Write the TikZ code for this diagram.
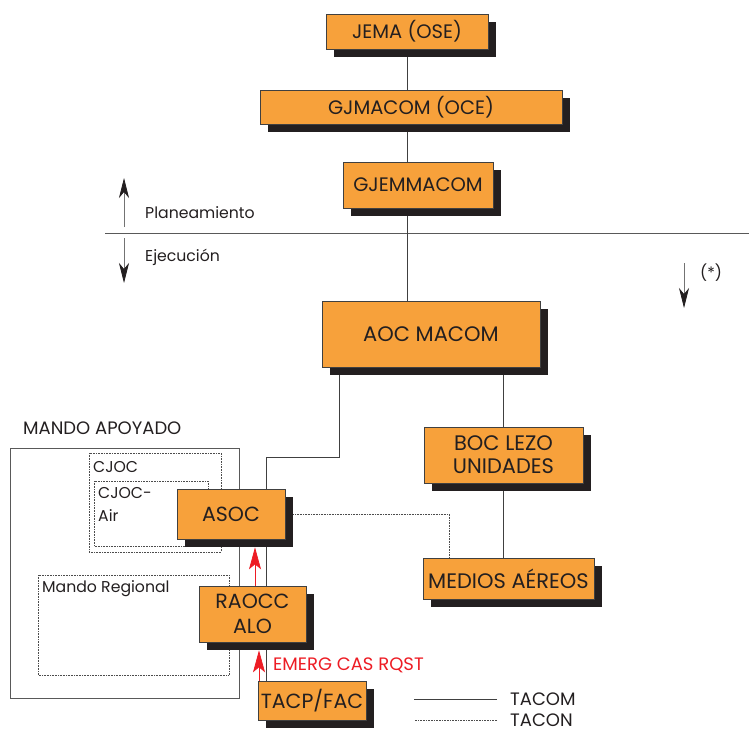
\documentclass[tikz,border=0pt]{standalone}
\usepackage{fontspec}
\setmainfont{Poppins}
\usetikzlibrary{arrows.meta}
\usetikzlibrary{shadows}
\usetikzlibrary{backgrounds}
\definecolor{naranja}{HTML}{F7A13B}
\definecolor{tinta}{HTML}{231F20}
\definecolor{rojo}{HTML}{ED1C24}
\newcommand{\tamsup}{\fontsize{19.5}{21}\selectfont}
\newcommand{\tammed}{\fontsize{21}{23}\selectfont}
\newcommand{\taminf}{\fontsize{20.5}{25}\selectfont}
\newcommand{\tamtxt}{\fontsize{15.7}{23}\selectfont}
\newcommand{\tammay}{\fontsize{18}{20}\selectfont}

\begin{document}
\begin{tikzpicture}[x=1pt,y=-1pt,
  caja/.style={draw=black!75,line width=0.6pt,fill=naranja,text=tinta,inner sep=0pt,align=center,
    drop shadow={shadow xshift=8pt,shadow yshift=-8pt,fill=tinta,opacity=1}},
  texto/.style={text=tinta,inner sep=0pt,font=\tamtxt},
  tacom/.style={draw=black!75,line width=0.7pt},
  tacon/.style={draw=black!70,line width=0.6pt,densely dotted},
  marco/.style={draw=black!65,line width=0.7pt},
  emerg/.style={draw=rojo,line width=0.7pt,-{Stealth[length=22pt,width=12pt,inset=5pt]}},
  flecha/.style={draw=black!55,line width=0.7pt,-{Stealth[length=20pt,width=10pt,inset=6pt,color=tinta]}}]
\useasboundingbox (0,0) rectangle (749,733);

% cajas
\node[caja,minimum width=162pt,minimum height=35pt,font=\tamsup] (jema) at (407,31.5) {JEMA (OSE)};
\node[caja,minimum width=302pt,minimum height=34pt,font=\tamsup] (gjmacom) at (411,107) {GJMACOM (OCE)};
\node[caja,minimum width=150pt,minimum height=46pt,font=\tamsup] (gjemmacom) at (418,185) {GJEMMACOM};
\node[caja,minimum width=218pt,minimum height=66pt,font=\tammed] (aoc) at (431,334) {AOC MACOM};
\node[caja,minimum width=159pt,minimum height=56pt,font=\tammed] (boc) at (503.5,455) {BOC LEZO\\UNIDADES};
\node[caja,minimum width=171pt,minimum height=41pt,font=\tammed] (medios) at (508.5,578.5) {MEDIOS AÉREOS};
\node[caja,minimum width=108pt,minimum height=50pt,font=\taminf] (asoc) at (231,514) {ASOC};
\node[caja,minimum width=107pt,minimum height=56pt,font=\taminf] (raocc) at (252.5,614) {RAOCC\\ALO};
\node[caja,minimum width=108pt,minimum height=39pt,font=\taminf] (tacp) at (312,700.5) {TACP/FAC};

% textos
\node[texto,anchor=west] (plan) at (145,213) {Planeamiento};
\node[texto,anchor=west] (ejec) at (145,257) {Ejecución};
\node[texto,anchor=west] (ast) at (700,273) {(*)};
\node[texto,anchor=west,font=\tammay] (apoyado) at (23,428) {MANDO APOYADO};
\node[texto,anchor=west] (cjoc) at (93,467) {CJOC};
\node[texto,anchor=north west,align=left] (cjocair) at (98,487) {CJOC-\\Air};
\node[texto,anchor=west] (regional) at (42,589) {Mando Regional};
\node[texto,anchor=west,text=rojo,font=\tammay] (rqst) at (273,665) {EMERG CAS RQST};
\node[texto,anchor=west,font=\tammay] (ltacom) at (510,699) {TACOM};
\node[texto,anchor=west,font=\tammay] (ltacon) at (510,720) {TACON};

\coordinate (k1) at (339,457);
\coordinate (k2) at (266,457);
\coordinate (k3) at (449,513);
\coordinate (r1) at (255,0);
\coordinate (r2) at (259,0);

\begin{scope}[on background layer]
\draw[marco] (105,233) -- (749,233);
\draw[marco] (10,448) rectangle (239,698);
\draw[tacon] (89,453) rectangle (221,552);
\draw[tacon] (94,481) rectangle (208,546);
\draw[tacon] (38,575) rectangle (229,675);
\draw[tacom] (jema.south) -- (jema.south |- gjmacom.north);
\draw[tacom] (jema.south |- gjmacom.south) -- (jema.south |- gjemmacom.north);
\draw[tacom] (jema.south |- gjemmacom.south) -- (jema.south |- aoc.north);
\draw[tacom] (boc.north |- aoc.south) -- (boc.north);
\draw[tacom] (boc.south) -- (boc.south |- medios.north);
\draw[tacom] (k1 |- aoc.south) -- (k1) -- (k2) -- (k2 |- tacp.north);
\draw[tacon] ([xshift=8pt]asoc.east) -| (k3 |- medios.north);
\end{scope}

\draw[emerg] (r1 |- raocc.north) -- ([yshift=-8pt]r1 |- asoc.south);
\draw[emerg] (r2 |- tacp.north) -- ([yshift=-8pt]r2 |- raocc.south);

\draw[flecha] (124,227) -- (124,178);
\draw[flecha] (124,238) -- (124,283);
\draw[flecha] (684,263) -- (684,308);

% leyenda
\draw[tacom] ([xshift=-13pt]ltacom.west) -- ++(-83,0);
\draw[tacon] ([xshift=-13pt]ltacon.west) -- ++(-83,0);
\end{tikzpicture}
\end{document}
